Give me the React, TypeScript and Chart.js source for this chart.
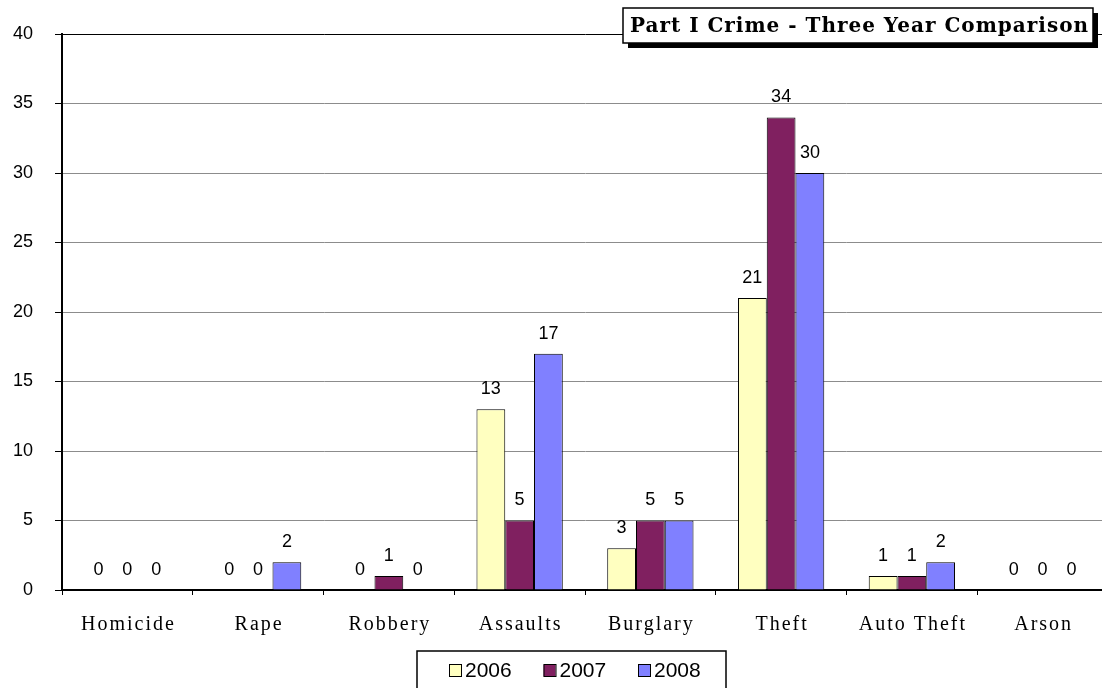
import React, { useEffect, useRef } from "react";
import { Chart, registerables } from "chart.js";

Chart.register(...registerables);

const categories = ["Homicide", "Rape", "Robbery", "Assaults", "Burglary", "Theft", "Auto Theft", "Arson"];
const seriesNames = ["2006", "2007", "2008"];
const values2006 = [0, 0, 0, 13, 3, 21, 1, 0];
const values2007 = [0, 0, 1, 5, 5, 34, 1, 0];
const values2008 = [0, 2, 0, 17, 5, 30, 2, 0];
const seriesColors = ["#FFFFC0", "#802060", "#8080FF"];
const yTicks = [0, 5, 10, 15, 20, 25, 30, 35, 40];
const titleText = "Part I Crime - Three Year Comparison";

const W = 1110;
const H = 688;

const decorPlugin = {
  id: "decor",
  afterDatasetsDraw(chart: any) {
    const ctx = chart.ctx;
    ctx.save();
    ctx.font = "18px 'Liberation Sans'";
    ctx.fillStyle = "#000";
    ctx.textAlign = "center";
    ctx.textBaseline = "bottom";
    chart.data.datasets.forEach((ds: any, di: number) => {
      const meta = chart.getDatasetMeta(di);
      meta.data.forEach((el: any, i: number) => {
        ctx.fillText(String(ds.data[i]), el.x, el.y - 11);
      });
    });
    ctx.restore();
  },
  afterDraw(chart: any) {
    const ctx = chart.ctx;
    const xs = chart.scales.x;
    // category labels
    ctx.save();
    ctx.font = "20px 'Liberation Serif'";
    (ctx as any).letterSpacing = "2px";
    ctx.fillStyle = "#000";
    ctx.textAlign = "center";
    ctx.textBaseline = "middle";
    categories.forEach((c, i) => {
      ctx.fillText(c, xs.getPixelForTick(i) + 1, 625);
    });
    (ctx as any).letterSpacing = "0px";
    ctx.restore();

    // title box
    ctx.save();
    const bx = 623, by = 8, bw = 470, bh = 35;
    ctx.fillStyle = "#000";
    ctx.fillRect(bx + 5, by + 5, bw, bh);
    ctx.fillStyle = "#fff";
    ctx.fillRect(bx, by, bw, bh);
    ctx.strokeStyle = "#000";
    ctx.lineWidth = 1.5;
    ctx.strokeRect(bx, by, bw, bh);
    ctx.font = "bold 20px 'DejaVu Serif'";
    const natural = ctx.measureText(titleText).width;
    const target = 458;
    const sp = (target - natural) / (titleText.length - 1);
    (ctx as any).letterSpacing = sp + "px";
    ctx.fillStyle = "#000";
    ctx.textAlign = "left";
    ctx.textBaseline = "middle";
    ctx.fillText(titleText, 630, by + bh / 2 + 1);
    (ctx as any).letterSpacing = "0px";
    ctx.restore();

    // legend box
    ctx.save();
    ctx.strokeStyle = "#000";
    ctx.lineWidth = 1.5;
    ctx.fillStyle = "#fff";
    ctx.fillRect(417, 651, 309, 50);
    ctx.strokeRect(417, 651, 309, 50);
    ctx.font = "21px 'Liberation Sans'";
    ctx.textAlign = "left";
    ctx.textBaseline = "middle";
    seriesNames.forEach((name, i) => {
      const x0 = 449 + i * 94.5;
      ctx.fillStyle = seriesColors[i];
      ctx.fillRect(x0, 664.5, 12, 12);
      ctx.lineWidth = 1;
      ctx.strokeStyle = "#000";
      ctx.strokeRect(x0 + 0.5, 664.5, 12, 12);
      ctx.fillStyle = "#000";
      ctx.fillText(name, x0 + 16, 671);
    });
    ctx.restore();
  },
};

export default function App() {
  const ref = useRef<HTMLCanvasElement | null>(null);
  useEffect(() => {
    if (!ref.current) return;
    const chart = new Chart(ref.current, {
      type: "bar",
      data: {
        labels: categories,
        datasets: [values2006, values2007, values2008].map((d, i) => ({
          label: seriesNames[i],
          data: d,
          backgroundColor: seriesColors[i],
          borderColor: "#000",
          borderWidth: 1,
          categoryPercentage: 0.66,
          barPercentage: 1,
        })),
      },
      options: {
        responsive: false,
        animation: false,
        devicePixelRatio: 1,
        layout: { padding: { top: 34, right: 2, left: 0, bottom: 0 } },
        plugins: { legend: { display: false }, tooltip: { enabled: false } },
        scales: {
          x: {
            offset: true,
            grid: {
              display: true,
              drawOnChartArea: false,
              drawTicks: true,
              tickLength: 5,
              tickColor: "#000",
              offset: true,
            },
            border: { color: "#000", width: 2 },
            ticks: { display: false },
            afterFit: (s: any) => {
              s.height = 98;
            },
          },
          y: {
            min: 0,
            max: 40,
            afterBuildTicks: (s: any) => {
              s.ticks = yTicks.map((v) => ({ value: v }));
            },
            ticks: {
              font: { family: "'Liberation Sans'", size: 18 },
              color: "#000",
              padding: 22,
            },
            grid: {
              color: (c: any) => (c.tick && c.tick.value === 40 ? "#000" : "#8c8c8c"),
              lineWidth: 1,
              tickColor: "#000",
              tickLength: 7,
            },
            border: { color: "#000", width: 2 },
            afterFit: (s: any) => {
              s.width = 62;
            },
          },
        },
      },
      plugins: [decorPlugin],
    });
    return () => chart.destroy();
  }, []);
  return (
    <div style={{ position: "absolute", left: 0, top: 0, width: 1102, height: 688, overflow: "hidden", background: "#fff" }}>
      <canvas ref={ref} width={W} height={H} style={{ width: W, height: H, display: "block" }} />
    </div>
  );
}
